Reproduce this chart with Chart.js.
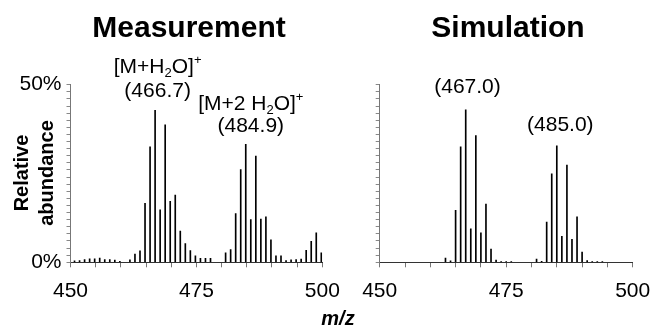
<!DOCTYPE html>
<html>
<head>
<meta charset="utf-8">
<script src="https://cdn.jsdelivr.net/npm/chart.js@4.4.0/dist/chart.umd.min.js"></script>
<style>
body{margin:0;background:#fff;}
#wrap{position:relative;width:650px;height:329px;}
#wrap canvas{position:absolute;left:0;top:0;}
</style>
</head>
<body>
<div id="wrap">
<canvas id="measured" width="650" height="329"></canvas>
<canvas id="simulated" width="650" height="329"></canvas>
</div>
<script>
// measured spectrum, m/z and relative abundance (%)
var measMz = [450.8,451.8,452.8,453.8,454.8,455.8,456.8,457.8,458.8,459.8,
  461.8,462.8,463.8,464.8,465.8,466.8,467.8,468.8,469.8,470.8,471.8,472.8,473.8,474.8,475.8,476.8,477.8,
  480.8,481.8,482.8,483.8,484.8,485.8,486.8,487.8,488.8,489.8,490.8,491.8,492.8,493.8,494.8,495.8,496.8,497.8,498.8,499.8];
var measAbund = [0.4,0.5,0.8,1.0,1.0,1.2,0.75,0.75,0.6,0.3,
  0.7,2.3,3.2,16.6,32.5,42.8,14.8,38.7,17.2,18.9,8.8,5.3,3.3,1.8,1.1,1.1,1.1,
  2.7,3.6,13.7,26.1,33.2,12.0,29.9,12.2,12.8,6.3,1.8,1.8,0.5,0.7,0.8,0.9,3.4,5.9,8.3,2.7];

// simulated spectrum
var simMz = [463,464,465,466,467,468,469,470,471,472,473,474,475,476,
  481,482,483,484,485,486,487,488,489,490,491,492,493,494];
var simAbund = [1.2,0.4,14.6,32.5,42.9,9.4,35.7,8.3,16.4,3.7,0.6,0.2,0.2,0.2,
  0.9,0.3,11.3,24.9,32.8,7.3,27.4,6.5,12.8,2.9,0.5,0.2,0.2,0.2];

var xTickLabels = [450, 475, 500];
var yTickLabels = [0, 50];

Chart.defaults.font.family = '"Liberation Sans", Arial, sans-serif';
Chart.defaults.color = '#000';

var FONT = '"Liberation Sans", Arial, sans-serif';

function drawRich(ctx, parts, cx, y, size) {
  var w = 0;
  parts.forEach(function(p){
    ctx.font = (p[1] === 'n' ? size : Math.round(size*0.62)) + 'px ' + FONT;
    w += ctx.measureText(p[0]).width;
  });
  var x = cx - w/2;
  ctx.textAlign = 'left';
  ctx.textBaseline = 'alphabetic';
  parts.forEach(function(p){
    var s = p[1] === 'n' ? size : Math.round(size*0.62);
    ctx.font = s + 'px ' + FONT;
    var dy = p[1] === 'sub' ? size*0.2 : (p[1] === 'sup' ? -size*0.42 : 0);
    ctx.fillText(p[0], x, y + dy);
    x += ctx.measureText(p[0]).width;
  });
}

var textPlugin = {
  id: 'figText',
  afterDraw: function(chart, args, opts) {
    var ctx = chart.ctx;
    var xs = chart.scales.x, ys = chart.scales.y;
    ctx.save();
    ctx.fillStyle = '#000';
    (opts.items || []).forEach(function(it){
      var x = it.mz !== undefined ? xs.getPixelForValue(it.mz) : it.px;
      var y = it.pct !== undefined ? ys.getPixelForValue(it.pct) : it.py;
      if (it.rich) {
        drawRich(ctx, it.rich, x, y, it.size);
        return;
      }
      ctx.font = it.font;
      ctx.textAlign = 'center';
      ctx.textBaseline = 'alphabetic';
      if (it.rotate) {
        ctx.save();
        ctx.translate(x, y);
        ctx.rotate(-Math.PI/2);
        ctx.fillText(it.text, 0, 0);
        ctx.restore();
      } else {
        ctx.fillText(it.text, x, y);
      }
    });
    ctx.restore();
  }
};

function makeScales(showY) {
  return {
    x: {
      type: 'linear', min: 450, max: 500, offset: false,
      afterFit: function(s){ s.height = 40; s.paddingLeft = 0; s.paddingRight = 0; },
      border: {color: '#333', width: 1},
      grid: {drawOnChartArea: false, drawTicks: true, tickLength: 5, tickColor: '#777', offset: false},
      ticks: {stepSize: 5, autoSkip: false, maxRotation: 0, padding: 11, font: {size: 21},
        callback: function(v){ return xTickLabels.indexOf(v) >= 0 ? String(v) : ''; }}
    },
    y: {
      min: 0, max: 50,
      afterFit: function(s){ s.width = 50; s.paddingTop = 0; s.paddingBottom = 0; },
      border: {color: '#777', width: 1},
      grid: {drawOnChartArea: false, drawTicks: true, tickLength: 4, tickColor: '#888'},
      ticks: {stepSize: 2, autoSkip: false, padding: 5, font: {size: 21},
        callback: function(v){ return showY && yTickLabels.indexOf(v) >= 0 ? v + '%' : ''; }}
    }
  };
}

function spectrum(id, mz, abund, pad, showY, items) {
  new Chart(document.getElementById(id).getContext('2d'), {
    type: 'bar',
    data: {
      datasets: [{
        data: mz.map(function(m, i){ return {x: m, y: abund[i]}; }),
        backgroundColor: '#000',
        borderWidth: 0,
        barThickness: 1,
        grouped: false
      }]
    },
    options: {
      responsive: false,
      animation: false,
      layout: {padding: pad},
      scales: makeScales(showY),
      plugins: {
        legend: {display: false},
        tooltip: {enabled: false},
        figText: {items: items}
      }
    },
    plugins: [textPlugin]
  });
}

spectrum('measured', measMz, measAbund,
  {left: 20.5, right: 327.7, top: 84.7, bottom: 26.7}, true, [
    {text: 'Measurement', font: 'bold 30px ' + FONT, px: 189, py: 37},
    {text: 'Relative', font: 'bold 20px ' + FONT, px: 28, py: 173, rotate: true},
    {text: 'abundance', font: 'bold 20px ' + FONT, px: 53, py: 173, rotate: true},
    {text: 'm/z', font: 'italic bold 20px ' + FONT, px: 338, py: 325},
    {rich: [['[M+H','n'],['2','sub'],['O]','n'],['+','sup']], size: 21, mz: 467.3, pct: 53.3},
    {text: '(466.7)', font: '21px ' + FONT, mz: 467.3, pct: 46.5},
    {rich: [['[M+2 H','n'],['2','sub'],['O]','n'],['+','sup']], size: 21, mz: 485.8, pct: 42.9},
    {text: '(484.9)', font: '21px ' + FONT, mz: 485.8, pct: 36.7}
  ]);

spectrum('simulated', simMz, simAbund,
  {left: 329.7, right: 17.3, top: 84.7, bottom: 26.7}, false, [
    {text: 'Simulation', font: 'bold 30px ' + FONT, px: 508, py: 37},
    {text: '(467.0)', font: '21px ' + FONT, mz: 467.35, pct: 47.6},
    {text: '(485.0)', font: '21px ' + FONT, mz: 485.7, pct: 37.0}
  ]);
</script>
</body>
</html>
